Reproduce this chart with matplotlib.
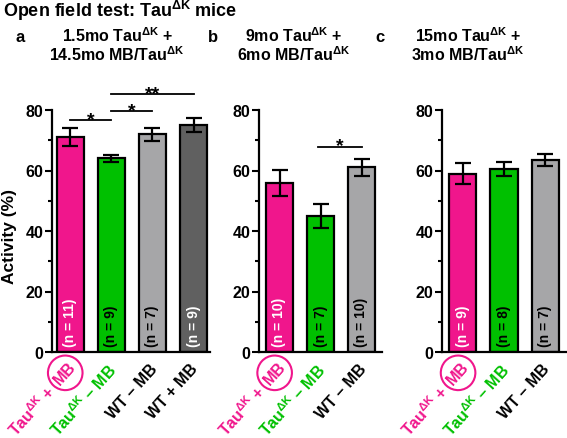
import matplotlib
matplotlib.use('Agg')
import matplotlib.pyplot as plt
from matplotlib.transforms import offset_copy, blended_transform_factory
import numpy as np

plt.rcParams['font.family'] = ['Liberation Sans', 'DejaVu Sans']
plt.rcParams['font.weight'] = 'bold'
plt.rcParams['mathtext.fontset'] = 'custom'
plt.rcParams['mathtext.rm'] = 'Liberation Sans:bold'
plt.rcParams['mathtext.it'] = 'Liberation Sans:bold'
plt.rcParams['mathtext.bf'] = 'Liberation Sans:bold'

# activity (%), mean +/- sem
means_a = [71, 64, 72, 75]
sems_a = [2.9, 1.2, 2.1, 2.3]
n_a = [11, 9, 7, 9]

means_b = [56, 45, 61]
sems_b = [4.3, 3.9, 2.8]
n_b = [10, 7, 10]

means_c = [59, 60.5, 63.5]
sems_c = [3.6, 2.3, 1.9]
n_c = [9, 8, 7]

tau = 'Tau$^{\\Delta K}$'
labels = [tau + ' +', tau + ' \u2013 MB', 'WT \u2013 MB', 'WT + MB']
titles = ['1.5mo ' + tau + ' +\n14.5mo MB/' + tau,
          '9mo ' + tau + ' +\n6mo MB/' + tau,
          '15mo ' + tau + ' +\n3mo MB/' + tau]
letters = ['a', 'b', 'c']

# significance brackets: (bar from, bar to, height, stars)
sig_a = [(0, 1, 76.6, '*'), (1, 2, 79.6, '*'), (1, 3, 85.2, '**')]
sig_b = [(0.95, 2, 67.8, '*')]
sig_c = []

pink = '#F0168C'
green = '#00C000'
lgray = '#A6A6A8'
dgray = '#606060'
bar_cols = [pink, green, lgray, dgray]
lab_cols = [pink, green, 'black', 'black']
n_cols = ['white', 'black', 'black', 'white']

fig = plt.figure(figsize=(5.67, 4.39), dpi=100)
W, H = 567.0, 439.0


def px_axes(left, right, bottom=353, top=111):
    return fig.add_axes([left / W, 1 - bottom / H, (right - left) / W, (bottom - top) / H])


def draw_panel(ax, means, sems, ns, sigs, xlim):
    x = np.arange(len(means))
    ax.bar(x, means, width=0.66, color=bar_cols[:len(means)], edgecolor='black', linewidth=1.6, zorder=2)
    ax.errorbar(x, means, yerr=sems, fmt='none', ecolor='black', elinewidth=1.6,
                capsize=6, capthick=1.6, zorder=3)
    ax.set_xlim(*xlim)
    ax.set_ylim(0, 80)
    ax.set_yticks([0, 20, 40, 60, 80])
    ax.set_yticks([10, 30, 50, 70], minor=True)
    ax.set_xticks([])
    ax.tick_params(axis='y', which='major', length=5, width=1.5, pad=1, labelsize=11.5)
    ax.tick_params(axis='y', which='minor', length=3, width=1.5)
    for s in ['top', 'right']:
        ax.spines[s].set_visible(False)
    for s in ['left', 'bottom']:
        ax.spines[s].set_linewidth(1.6)

    for i in range(len(means)):
        ax.text(i, 2, '(n = %d)' % ns[i], rotation=90, ha='center', va='bottom',
                color=n_cols[i], fontsize=10, zorder=4)

    for x0, x1, y, stars in sigs:
        ax.plot([x0, x1], [y, y], color='black', lw=1.3, clip_on=False)
        ax.text((x0 + x1) / 2, y - 1.2, stars, ha='center', va='baseline', fontsize=14, clip_on=False)

    # rotated group labels under the bars
    base = blended_transform_factory(ax.transData, ax.transAxes)
    a = np.deg2rad(48)
    for i in range(len(means)):
        if i == 0:
            tr = offset_copy(base, fig=fig, x=-3.5, y=-15, units='points')
            ax.text(i, 0, 'MB', transform=tr, rotation=48, rotation_mode='anchor', ha='center',
                    va='center', color=pink, fontsize=11.5,
                    bbox=dict(boxstyle='circle,pad=0.3', fc='none', ec=pink, lw=1.5))
            tr = offset_copy(base, fig=fig, x=-3.5 - 14 * np.cos(a), y=-15 - 14 * np.sin(a), units='points')
            ax.text(i, 0, labels[i], transform=tr, rotation=48, rotation_mode='anchor', ha='right',
                    va='center', color=pink, fontsize=11.5)
        else:
            tr = offset_copy(base, fig=fig, x=1.5, y=-10, units='points')
            ax.text(i, 0, labels[i], transform=tr, rotation=48, rotation_mode='anchor', ha='right',
                    va='center', color=lab_cols[i], fontsize=11.5)


ax_a = px_axes(52, 210)
ax_b = px_axes(259, 382)
ax_c = px_axes(442, 566)

draw_panel(ax_a, means_a, sems_a, n_a, sig_a, (-0.44, 3.4))
draw_panel(ax_b, means_b, sems_b, n_b, sig_b, (-0.5, 2.5))
draw_panel(ax_c, means_c, sems_c, n_c, sig_c, (-0.51, 2.51))

fig.text(10 / W, 1 - 237 / H, 'Activity (%)', fontsize=12.5, rotation=90, ha='center', va='center')

fig.text(3 / W, 1 - 17 / H, 'Open field test: ' + tau + ' mice', fontsize=13, ha='left', va='baseline')

for lx, cx, ttl, let in zip([20, 213, 380], [117, 294, 468], titles, letters):
    fig.text(lx / W, 1 - 42 / H, let, fontsize=12, ha='center', va='baseline')
    l1, l2 = ttl.split('\n')
    fig.text(cx / W, 1 - 42 / H, l1, fontsize=11.5, ha='center', va='baseline')
    fig.text(cx / W, 1 - 61 / H, l2, fontsize=11.5, ha='center', va='baseline')

plt.savefig('out.png', dpi=100)
